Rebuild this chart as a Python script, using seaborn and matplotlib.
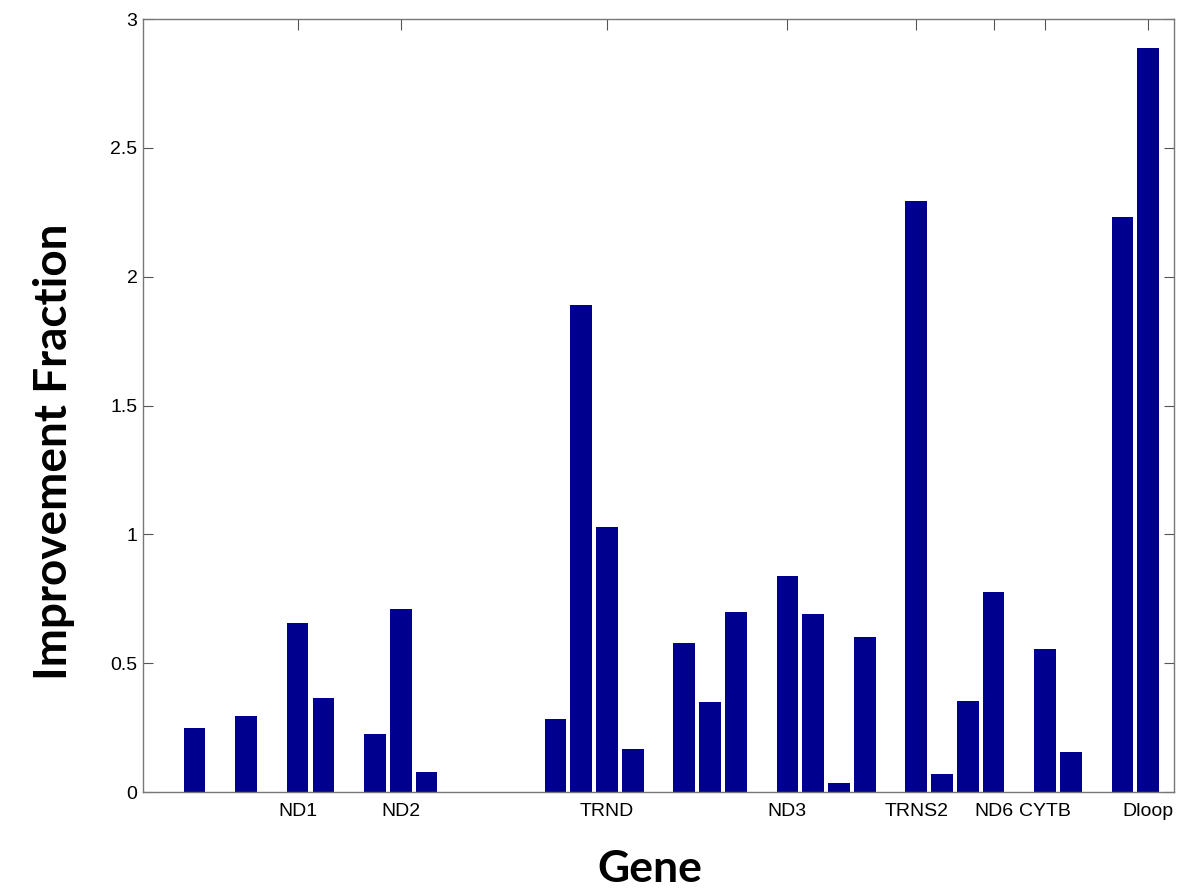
import matplotlib
matplotlib.use("Agg")
import matplotlib.pyplot as plt
import seaborn as sns
import pandas as pd

# ---- data ----
positions = [1, 3, 5, 6, 8, 9, 10, 15, 16, 17, 18, 20, 21, 22, 24, 25, 26, 27,
             29, 30, 31, 32, 34, 35, 37, 38]
values = [0.248, 0.295, 0.656, 0.365, 0.225, 0.710, 0.078, 0.283, 1.890, 1.028,
          0.167, 0.578, 0.349, 0.698, 0.838, 0.691, 0.035, 0.601, 2.293, 0.070,
          0.353, 0.776, 0.555, 0.155, 2.231, 2.887]
gene_ticks = [5, 9, 17, 24, 29, 32, 34, 38]
gene_labels = ["ND1", "ND2", "TRND", "ND3", "TRNS2", "ND6", "CYTB", "Dloop"]
y_ticks = [0, 0.5, 1, 1.5, 2, 2.5, 3]
y_tick_labels = ["0", "0.5", "1", "1.5", "2", "2.5", "3"]

df = pd.DataFrame({"pos": positions, "val": values})

sns.set_theme(style="white")
plt.rcParams["font.family"] = ["Liberation Sans", "DejaVu Sans"]
plt.rcParams["text.color"] = "black"
plt.rcParams["xtick.color"] = "black"
plt.rcParams["ytick.color"] = "black"

fig = plt.figure(figsize=(12, 8.96), dpi=100)
ax = fig.add_axes([143 / 1200, 1 - 792 / 896, (1174 - 143) / 1200, (792 - 19) / 896])

sns.barplot(data=df, x="pos", y="val", native_scale=True, width=0.84,
            color="#00008F", saturation=1, edgecolor="#00008F", linewidth=0,
            ax=ax)

ax.set_xlim(-1, 39)
ax.set_ylim(0, 3)
ax.set_xlabel("")
ax.set_ylabel("")

ax.set_xticks(gene_ticks)
ax.set_xticklabels(gene_labels, fontsize=14, color="black")
ax.set_yticks(y_ticks)
ax.set_yticklabels(y_tick_labels, fontsize=14, color="black")

ax.tick_params(axis="x", which="both", bottom=False, top=True, direction="in",
               length=8, width=0.8, color="#555555", pad=8)
ax.tick_params(axis="y", which="both", left=True, right=True, direction="in",
               length=7, width=0.8, color="#555555", pad=4)

for side in ["left", "right", "top", "bottom"]:
    ax.spines[side].set_visible(True)
    ax.spines[side].set_color("#777777")
    ax.spines[side].set_linewidth(1.0)

fig.text(650 / 1200, 1 - 869 / 896, "Gene", ha="center", va="center",
         fontsize=32, fontweight="bold", color="black",
         family=["Lato", "DejaVu Sans"])
fig.text(54 / 1200, 1 - 452 / 896, "Improvement Fraction", ha="center",
         va="center", rotation=90, fontsize=33, fontweight="bold",
         color="black", family=["Lato", "DejaVu Sans"])

fig.savefig("out.png", dpi=100, facecolor="white")
